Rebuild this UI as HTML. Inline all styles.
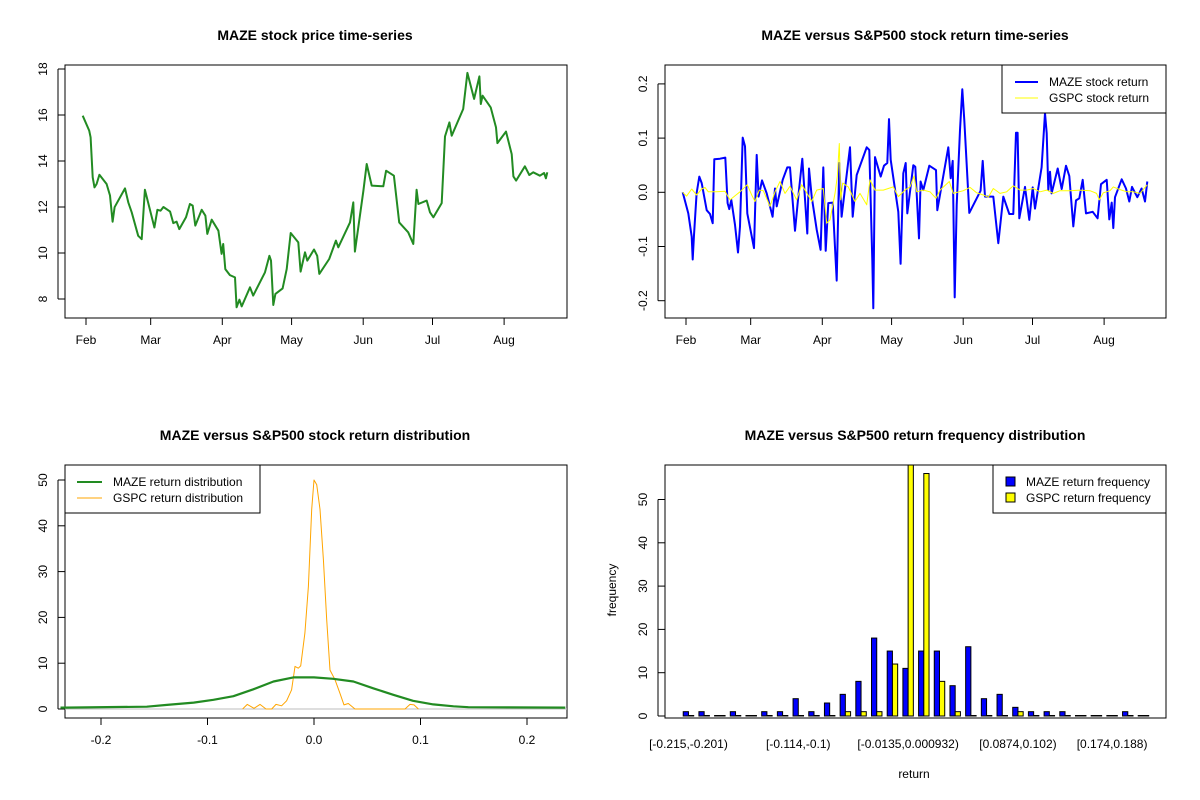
<!DOCTYPE html>
<html><head><meta charset="utf-8"><style>
body{margin:0;background:#fff}
svg{display:block;font-family:"Liberation Sans",Arial,sans-serif}
</style></head><body>
<svg id="c" width="1200" height="800" viewBox="0 0 1200 800"></svg>
<script>
// ---------- data ----------
const monthLabels=["Feb","Mar","Apr","May","Jun","Jul","Aug"];
const monthDays=[0,28,59,89,120,150,181];
const priceDays=[-1.45,1.4,2.0,2.9,3.7,4.6,5.8,8.9,10.4,11.5,12.4,16.9,18.3,19.8,22.6,24.1,25.5,26.5,29.6,30.9,32.3,33.5,36.4,37.8,39.2,40.4,43.3,45.0,46.2,47.3,50.1,51.7,52.5,54.4,57.3,58.7,59.4,60.3,62.3,64.5,65.2,66.4,67.4,71.0,72.4,77.5,79.4,80.1,81.1,82.0,85.1,86.9,88.6,91.9,92.9,94.8,95.8,98.7,100.1,101.0,105.3,108.2,109.2,114.3,115.7,116.4,120.1,121.5,123.7,128.7,129.9,133.3,135.6,139.5,141.7,143.1,143.9,147.5,148.9,150.4,154.0,155.4,157.3,158.3,163.3,165.1,168.0,170.3,170.9,171.7,175.2,177.5,178.1,181.8,184.3,185.0,186.2,190.0,191.9,193.6,196.5,198.3,199.1,199.7];
const priceValues=[15.97,15.32,15.03,13.29,12.85,13.0,13.4,13.0,12.5,11.36,11.99,12.81,12.2,11.77,10.75,10.6,12.75,12.35,11.11,11.88,11.84,12.0,11.8,11.3,11.36,11.04,11.55,12.13,12.06,11.19,11.88,11.62,10.83,11.45,10.97,9.96,10.39,9.30,9.04,8.94,7.64,7.97,7.68,8.51,8.15,9.16,9.88,9.67,7.74,8.22,8.46,9.30,10.87,10.46,9.19,10.03,9.67,10.15,9.88,9.09,9.74,10.54,10.25,11.33,12.2,10.06,12.71,13.87,12.93,12.9,13.58,13.36,11.33,10.9,10.39,12.75,12.13,12.28,11.77,11.55,12.17,15.07,15.68,15.1,16.26,17.83,16.7,17.68,16.48,16.84,16.33,15.46,14.78,15.28,14.3,13.33,13.15,13.77,13.39,13.51,13.36,13.48,13.25,13.51];
const mazeRetDays=[-1.45,1.0,2.45,2.88,3.46,4.61,5.77,6.78,8.94,10.39,11.54,12.26,14.71,17.02,18.03,18.75,19.62,21.21,22.5,23.37,24.53,25.54,26.55,29.43,30.59,31.45,32.9,34.92,37.51,38.52,39.25,41.84,43.86,45.02,47.18,48.62,50.36,52.52,53.24,54.4,56.56,58.29,59.45,60.46,61.61,63.49,65.22,66.37,67.38,70.99,72.15,73.88,78.21,79.36,80.66,81.09,81.81,84.27,85.71,87.15,87.87,88.6,91.91,92.92,94.08,95.09,95.81,98.41,99.27,100.86,101.58,102.74,105.33,108.22,108.8,113.56,114.57,115.44,116.3,117.17,118.61,119.62,120.49,122.65,127.55,128.42,129.43,131.6,133.04,135.2,137.37,139.97,141.7,142.85,143.57,144.3,146.75,148.62,150.07,151.08,153.96,155.41,156.13,156.85,157.57,158.29,160.89,162.62,164.5,165.94,167.67,168.83,170.27,171.71,173.16,176.04,178.2,179.65,182.1,183.26,184.27,184.99,185.71,188.6,190.47,191.91,193.07,195.38,197.25,198.7,199.71];
const mazeRetValues=[0,-0.039,-0.082,-0.124,-0.079,-0.002,0.029,0.017,-0.033,-0.040,-0.057,0.061,0.062,0.064,-0.020,-0.031,-0.014,-0.060,-0.111,-0.063,0.101,0.085,-0.039,-0.103,0.069,-0.008,0.022,-0.002,-0.045,0.007,-0.026,0.023,0.046,0.046,-0.071,-0.008,0.062,-0.076,0.044,-0.008,-0.069,-0.106,0.046,-0.108,-0.020,-0.019,-0.163,0.054,-0.045,0.083,-0.045,0.032,0.083,0.078,-0.125,-0.214,0.065,0.029,0.049,0.054,0.135,0.060,-0.036,-0.132,0.035,0.054,-0.039,0.050,0.047,-0.085,0.020,0.004,0.049,0.041,-0.033,0.083,0.026,0.058,-0.194,-0.023,0.115,0.190,0.133,-0.038,0.003,0.058,-0.008,-0.008,-0.008,-0.094,-0.008,-0.040,-0.040,0.110,0.110,-0.048,0.010,-0.051,0.009,-0.030,0.046,0.146,0.109,0.004,0.038,-0.002,0.044,0.006,0.049,0.030,-0.063,-0.015,-0.011,0.023,-0.039,-0.036,-0.048,0.015,0.023,-0.050,-0.019,-0.066,-0.009,0.024,0.007,-0.017,0.010,-0.009,0.007,-0.017,0.020];
const gspcRetDays=[-1.45,0.28,2.45,4.61,6.78,8.22,9.66,13.27,16.88,19.04,21.64,23.37,26.55,28.42,29.87,31.74,33.47,36.36,38.52,40.69,42.85,45.02,47.9,50.07,52.23,54.4,56.56,59.45,60.89,62.33,64.5,65.51,66.37,66.95,67.82,70.27,73.16,75.32,78.21,79.65,81.81,85.42,89.75,91.91,94.8,96.97,98.7,99.85,102.74,105.62,108.22,109.95,113.99,115.72,120.05,122.94,125.83,128.71,130.88,133.04,135.93,138.81,141.7,144.58,147.47,150.36,153.24,156.13,159.01,161.9,166.23,170.56,174.89,177.77,178.93,180.66,183.55,184.99,187.15,190.76,193.65,196.53,199.71];
const gspcRetValues=[0,-0.007,0.006,-0.005,0.006,0.009,0.001,0.001,0.002,-0.014,-0.005,0.001,0.014,-0.005,-0.017,0.004,0.003,-0.026,0.001,0.020,-0.002,0.011,-0.014,0.014,-0.001,-0.017,0.004,0.007,-0.057,-0.051,-0.002,0.029,0.090,-0.014,0.017,0.010,-0.017,-0.002,-0.023,0.023,0.004,0.004,0.010,-0.008,0.004,0.010,0.030,0.001,0.004,0.001,-0.011,0.004,0.020,-0.002,0.003,0.009,-0.001,-0.005,-0.009,0.007,-0.002,0.001,0.012,0.004,0.004,0.007,0.001,0.004,-0.002,0.003,0.003,0.004,0.003,-0.002,-0.014,-0.001,0.003,0.010,0.006,0.001,0.001,-0.002,0.014];
const mazeDensX=[-0.238,-0.234,-0.157,-0.138,-0.113,-0.0945,-0.0757,-0.057,-0.038,-0.0194,0,0.018,0.037,0.056,0.0745,0.093,0.112,0.131,0.145,0.236];
const mazeDensY=[0.3,0.3,0.5,0.9,1.4,2.0,2.8,4.3,6.0,6.9,6.9,6.6,6.0,4.5,3.1,1.8,1.0,0.6,0.4,0.3];
const gspcDensX=[-0.067,-0.0626,-0.0563,-0.0507,-0.0451,-0.0397,-0.0357,-0.0304,-0.0257,-0.021,-0.0178,-0.0147,-0.0125,-0.0085,-0.0053,-0.0022,0,0.0025,0.0056,0.0088,0.0119,0.015,0.0197,0.0244,0.0282,0.0322,0.0385,0.0854,0.0901,0.0939,0.098];
const gspcDensY=[0,1.0,0.15,1.0,0,0,1.0,0.7,1.8,4.2,9.3,8.9,9.4,16.6,26.8,43.6,50,49,43.6,32.6,19.5,8.5,6.4,3.4,0.9,1.2,0,0,1.0,0.9,0];
const binLabels=["[-0.215,-0.201)","[-0.201,-0.186)","[-0.186,-0.172)","[-0.172,-0.157)","[-0.157,-0.143)","[-0.143,-0.129)","[-0.129,-0.114)","[-0.114,-0.1)","[-0.1,-0.0856)","[-0.0856,-0.0712)","[-0.0712,-0.0568)","[-0.0568,-0.0424)","[-0.0424,-0.0279)","[-0.0279,-0.0135)","[-0.0135,0.000932)","[0.000932,0.0153)","[0.0153,0.0298)","[0.0298,0.0442)","[0.0442,0.0586)","[0.0586,0.073)","[0.073,0.0874)","[0.0874,0.102)","[0.102,0.116)","[0.116,0.131)","[0.131,0.145)","[0.145,0.16)","[0.16,0.174)","[0.174,0.188)","[0.188,0.203)","[0.203,0.217)"];
const shownBins=[0,7,14,21,27];
const mazeFreq=[1,1,0,1,0,1,1,4,1,3,5,8,18,15,11,15,15,7,16,4,5,2,1,1,1,0,0,0,1,0];
const gspcFreq=[0,0,0,0,0,0,0,0,0,0,1,1,1,12,63,56,8,1,0,0,0,1,0,0,0,0,0,0,0,0];

// ---------- helpers ----------
const S=document.getElementById('c');const NS='http://www.w3.org/2000/svg';
function el(t,a,p){const e=document.createElementNS(NS,t);for(const k in a)e.setAttribute(k,a[k]);(p||S).appendChild(e);return e;}
function txt(x,y,s,o){o=o||{};const e=el('text',{x:x,y:y,'font-size':o.fs||12,'text-anchor':o.anchor||'middle','font-weight':o.bold?'bold':'normal',fill:'#000'});if(o.rot)e.setAttribute('transform','rotate(-90 '+x+' '+y+')');e.textContent=s;return e;}
function box(x0,y0,x1,y1,name){const r=el('rect',{x:x0,y:y0,width:x1-x0,height:y1-y0,fill:'none',stroke:'#000','stroke-width':1});}
function line(pts,color,w,name){const p=el('polyline',{points:pts.map(q=>q[0].toFixed(1)+','+q[1].toFixed(1)).join(' '),fill:'none',stroke:color,'stroke-width':w,'stroke-linejoin':'round'});return p;}
function tickX(x,y,label){el('line',{x1:x,y1:y,x2:x,y2:y+7,stroke:'#000'});txt(x,y+26,label);}
function tickY(x,y,label){el('line',{x1:x,y1:y,x2:x-7,y2:y,stroke:'#000'});txt(x-18,y,label,{rot:true});}

// ---------- panel 1: price ----------
const dx=d=>86+d*2.31, pyS=v=>299-(v-8)*23;
box(65,65,567,318,'price-plot-box');
txt(315,40,'MAZE stock price time-series',{bold:true,fs:14});
el('line',{x1:dx(0),y1:318,x2:dx(181),y2:318,stroke:'#000'});
monthDays.forEach((d,i)=>tickX(dx(d),318,monthLabels[i]));
el('line',{x1:58,y1:pyS(8),x2:58,y2:pyS(18),stroke:'#000'});
[8,10,12,14,16,18].forEach(v=>tickY(65,pyS(v),String(v)));
line(priceDays.map((d,i)=>[dx(d),pyS(priceValues[i])]),'#228B22',2,'maze-price-line');

// ---------- panel 2: returns ----------
const dx2=d=>686+d*2.31, ry=v=>192.3-v*542;
box(665,65,1166,318,'return-plot-box');
txt(915,40,'MAZE versus S&P500 stock return time-series',{bold:true,fs:14});
el('line',{x1:dx2(0),y1:318,x2:dx2(181),y2:318,stroke:'#000'});
monthDays.forEach((d,i)=>tickX(dx2(d),318,monthLabels[i]));
[-0.2,-0.1,0,0.1,0.2].forEach(v=>tickY(665,ry(v),v.toFixed(1)));
el('line',{x1:658,y1:ry(-0.2),x2:658,y2:ry(0.2),stroke:'#000'});
line(mazeRetDays.map((d,i)=>[dx2(d),ry(mazeRetValues[i])]),'#0000FF',2,'maze-return-line');
line(gspcRetDays.map((d,i)=>[dx2(d),ry(gspcRetValues[i])]),'#FFFF00',1,'gspc-return-line');
const lg2=el('g',{});
el('rect',{x:1002,y:65,width:164,height:48,fill:'#fff',stroke:'#000'},lg2);
el('line',{x1:1015,y1:82,x2:1038,y2:82,stroke:'#0000FF','stroke-width':2},lg2);
el('line',{x1:1015,y1:98,x2:1038,y2:98,stroke:'#FFFF00','stroke-width':1},lg2);
txt(1049,86,'MAZE stock return',{anchor:'start'});txt(1049,102,'GSPC stock return',{anchor:'start'});

// ---------- panel 3: density ----------
const kx=v=>314+v*1065, ky=v=>709-v*4.58;
box(65,465,567,718,'density-plot-box');
txt(315,440,'MAZE versus S&P500 stock return distribution',{bold:true,fs:14});
el('line',{x1:kx(-0.2),y1:718,x2:kx(0.2),y2:718,stroke:'#000'});
[-0.2,-0.1,0,0.1,0.2].forEach(v=>tickX(kx(v),718,v.toFixed(1)));
el('line',{x1:58,y1:ky(0),x2:58,y2:ky(50),stroke:'#000'});
[0,10,20,30,40,50].forEach(v=>tickY(65,ky(v),String(v)));
el('line',{x1:65,y1:ky(0),x2:567,y2:ky(0),stroke:'#BEBEBE'});
line(gspcDensX.map((x,i)=>[kx(x),ky(gspcDensY[i])]),'#FFA500',1,'gspc-density-line');
line(mazeDensX.map((x,i)=>[kx(x),ky(mazeDensY[i])]),'#228B22',2.2,'maze-density-line');
const lg3=el('g',{});
el('rect',{x:65,y:465,width:195,height:48,fill:'#fff',stroke:'#000'},lg3);
el('line',{x1:77,y1:482,x2:102,y2:482,stroke:'#228B22','stroke-width':2},lg3);
el('line',{x1:77,y1:498,x2:102,y2:498,stroke:'#FFA500','stroke-width':1},lg3);
txt(113,486,'MAZE return distribution',{anchor:'start'});txt(113,502,'GSPC return distribution',{anchor:'start'});

// ---------- panel 4: histogram ----------
const bw=5.23, bx=u=>678+u*bw, by=v=>716-v*4.33;
txt(915,440,'MAZE versus S&P500 return frequency distribution',{bold:true,fs:14});
el('clipPath',{id:'hc'}).appendChild(el('rect',{x:665,y:465,width:501,height:253}));
const bars=el('g',{'clip-path':'url(#hc)'});
mazeFreq.forEach((v,i)=>{const h=Math.max(v*4.33,0.5);const r=el('rect',{x:bx(3*i+1),y:716-h,width:bw,height:h,fill:'#0000FF',stroke:'#000','stroke-width':1},bars);
});
gspcFreq.forEach((v,i)=>{const h=Math.max(v*4.33,0.5);const r=el('rect',{x:bx(3*i+2),y:716-h,width:bw,height:h,fill:'#FFFF00',stroke:'#000','stroke-width':1},bars);
});
box(665,465,1166,718,'histogram-plot-box');
shownBins.forEach(i=>txt(bx(3*i+2),748,binLabels[i]));
el('line',{x1:658,y1:by(0),x2:658,y2:by(50),stroke:'#000'});
[0,10,20,30,40,50].forEach(v=>tickY(665,by(v),String(v)));
txt(616,590,'frequency',{rot:true});
txt(914,778,'return');
const lg4=el('g',{});
el('rect',{x:993,y:465,width:173,height:48,fill:'#fff',stroke:'#000'},lg4);
el('rect',{x:1006,y:477,width:9,height:9,fill:'#0000FF',stroke:'#000'},lg4);
el('rect',{x:1006,y:493,width:9,height:9,fill:'#FFFF00',stroke:'#000'},lg4);
txt(1026,486,'MAZE return frequency',{anchor:'start'});txt(1026,502,'GSPC return frequency',{anchor:'start'});
</script>
</body></html>
